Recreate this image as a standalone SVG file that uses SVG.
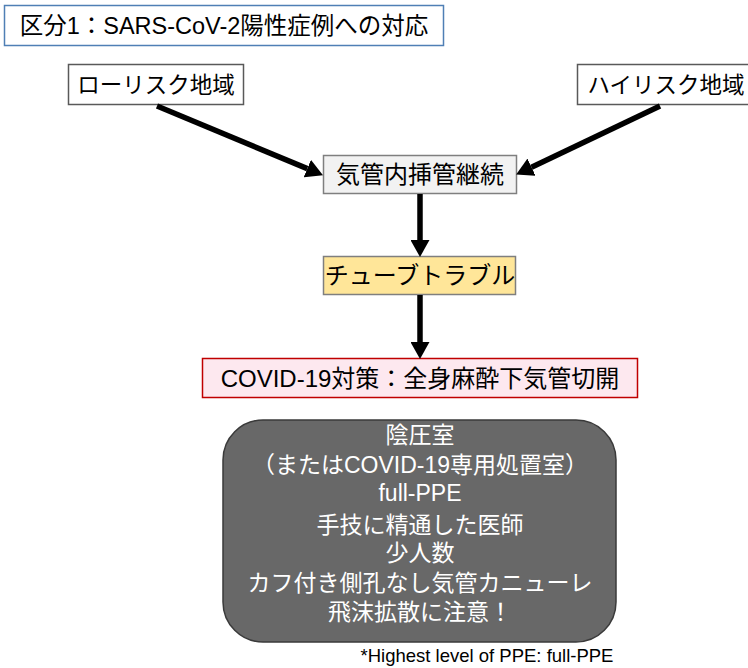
<svg xmlns="http://www.w3.org/2000/svg" width="748" height="668" viewBox="0 0 748 668">
<style>
text{font-family:"Liberation Sans","Noto Sans CJK JP",sans-serif;text-anchor:middle;fill:#000}
.box{stroke-width:1.5}
.w text,.w{fill:#fff}
.conn{stroke:#000;stroke-width:5.5;fill:none}
</style>
<defs>
<marker id="ah" markerUnits="userSpaceOnUse" markerWidth="17" markerHeight="19" refX="0" refY="9.5" orient="auto" viewBox="0 0 17 19">
<path d="M0,0 L17,9.5 L0,19 Z" fill="#000"/>
</marker>
</defs>
<rect width="748" height="668" fill="#fff"/>
<g id="title">
<rect x="4.5" y="5.5" width="439" height="40" fill="#fff" stroke="#4f7fb5" stroke-width="1.5"/>
<text x="224" y="33.5" font-size="23.5">区分1：SARS-CoV-2陽性症例への対応</text>
</g>
<g id="low-risk">
<rect class="box" x="68.5" y="64.5" width="175" height="40" fill="#fff" stroke="#595959"/>
<text x="156" y="92.5" font-size="22.5">ローリスク地域</text>
</g>
<g id="high-risk">
<rect class="box" x="577.5" y="64.5" width="180" height="40" fill="#fff" stroke="#595959"/>
<text x="666" y="92.5" font-size="22.5">ハイリスク地域</text>
</g>
<g id="intubation">
<rect class="box" x="323.5" y="155.5" width="193" height="38" fill="#f2f2f2" stroke="#7f7f7f"/>
<text x="420" y="183" font-size="24">気管内挿管継続</text>
</g>
<g id="tube-trouble">
<rect class="box" x="323.5" y="256.5" width="192" height="38" fill="#ffe699" stroke="#7f7f7f"/>
<text x="420" y="284" font-size="24">チューブトラブル</text>
</g>
<g id="covid">
<rect class="box" x="202.5" y="358.5" width="435" height="39" fill="#fde8ef" stroke="#c00000"/>
<text x="420" y="386.5" font-size="24">COVID-19対策：全身麻酔下気管切開</text>
</g>
<g id="measures">
<rect x="223" y="420" width="393" height="222" rx="40" ry="40" fill="#686868" stroke="#3a3a3a" stroke-width="1.5"/>
<g class="w" font-size="23">
<text x="420" y="443">陰圧室</text>
<text x="420" y="473">（またはCOVID-19専用処置室）</text>
<text x="420" y="501">full-PPE</text>
<text x="420" y="533">手技に精通した医師</text>
<text x="420" y="561">少人数</text>
<text x="420" y="591">カフ付き側孔なし気管カニューレ</text>
<text x="420" y="620">飛沫拡散に注意！</text>
</g>
</g>
<g id="footnote">
<text x="487" y="662" font-size="18.5">*Highest level of PPE: full-PPE</text>
</g>
<g id="connectors">
<path class="conn" d="M157,106 L307.3,168.6" marker-end="url(#ah)"/>
<path class="conn" d="M660,106 L531.5,167.2" marker-end="url(#ah)"/>
<path class="conn" d="M420,194 L420,240" marker-end="url(#ah)"/>
<path class="conn" d="M420,295 L420,342" marker-end="url(#ah)"/>
</g>
</svg>
